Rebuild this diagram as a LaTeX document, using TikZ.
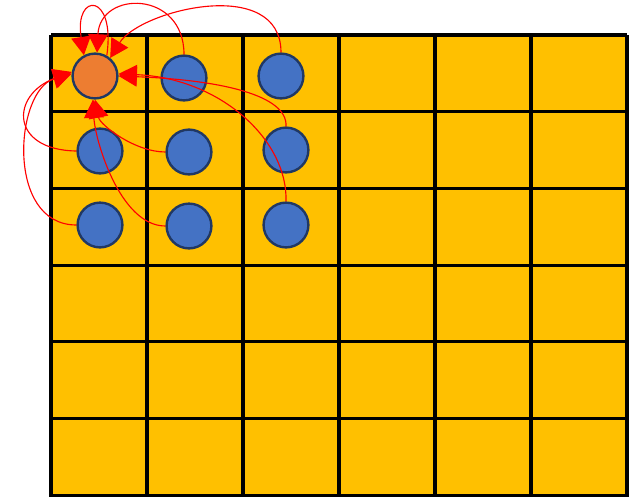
\documentclass[tikz,border=0pt]{standalone}
\usepackage{tikz}
\usetikzlibrary{arrows.meta, positioning}
\definecolor{CellYellow}{RGB}{255, 192, 0}
\definecolor{DotBlue}{RGB}{68, 114, 196}
\definecolor{DotOrange}{RGB}{237, 125, 49}
\definecolor{DotEdge}{RGB}{32, 56, 100}

\begin{document}
\begin{tikzpicture}[
            x=0.025cm, y=-0.025cm,
            gridline/.style={black, line width=2.2pt},
            dot/.style={circle, draw=DotEdge, line width=1.7pt, fill=DotBlue, minimum size=1.12cm, inner sep=0pt},
            target/.style={dot, fill=DotOrange},
            link/.style={red, line width=0.8pt, -{Triangle[width=14pt, length=13pt]}}
        ]
        \useasboundingbox (0,0) rectangle (634,496);
        \clip (0,0) rectangle (634,496);

        % --- SIATKA ---
        \fill[CellYellow] (51,35) rectangle (627,500);
        \foreach \gx in {51,147,243,339,435,531,627}
            \draw[gridline] (\gx,35) -- (\gx,500);
        \foreach \gy in {35,111.7,188.4,265.1,341.8,418.5,495.5}
            \draw[gridline] (51,\gy) -- (627,\gy);

        % --- WEZLY ---
        \node[target] (o) at (95, 76) {};
        \node[dot] (b12) at (184, 78) {};
        \node[dot] (b13) at (281, 76) {};
        \node[dot] (b21) at (100, 151) {};
        \node[dot] (b22) at (189, 152) {};
        \node[dot] (b23) at (286, 150) {};
        \node[dot] (b31) at (100, 225) {};
        \node[dot] (b32) at (189, 226) {};
        \node[dot] (b33) at (286, 225) {};

        % --- POLACZENIA ---
        \draw[link] (o.60) .. controls (116,-8) and (74,-8) .. (o.118);
        \draw[link] (b12.north) .. controls (184,-10) and (100,-10) .. (o.85);
        \draw[link] (b13.north) .. controls (281,-25) and (140,10) .. (o.50);
        \draw[link] (b21.west) .. controls (10,150) and (10,95) .. (o.170);
        \draw[link] (b31.west) .. controls (5,225) and (15,90) .. (o.175);
        \draw[link] (b22.west) .. controls (135,152) and (100,125) .. (o.south);
        \draw[link] (b32.west) .. controls (120,226) and (95,140) .. (o.265);
        \draw[link] (b23.north) .. controls (288,95) and (220,80) .. (o.east);
        \draw[link] (b33.north) .. controls (288,140) and (220,78) .. (o.5);

        \end{tikzpicture}
\end{document}
